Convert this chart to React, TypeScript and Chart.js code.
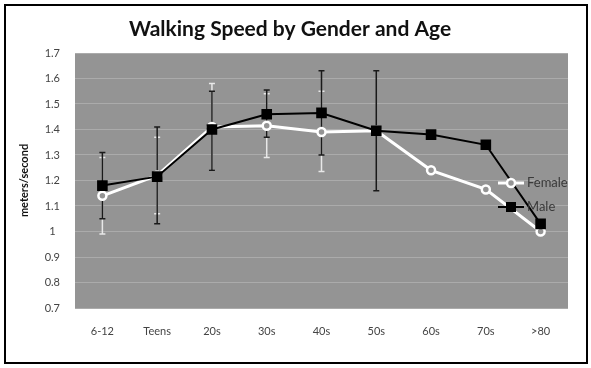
import React, { useEffect, useRef } from "react";
import { Chart, registerables } from "chart.js";

Chart.register(...registerables);

const categories = ["6-12", "Teens", "20s", "30s", "40s", "50s", "60s", "70s", ">80"];
const femaleSpeed = [1.14, 1.22, 1.41, 1.415, 1.39, 1.395, 1.24, 1.165, 1.0];
const maleSpeed = [1.18, 1.215, 1.4, 1.46, 1.465, 1.395, 1.38, 1.34, 1.03];
const femaleLow = [0.99, 1.07, 1.24, 1.29, 1.235, null, null, null, null];
const femaleHigh = [1.29, 1.37, 1.58, 1.54, 1.55, null, null, null, null];
const maleLow = [1.05, 1.03, 1.24, 1.37, 1.3, 1.16, null, null, null];
const maleHigh = [1.31, 1.41, 1.55, 1.555, 1.63, 1.63, null, null, null];

const titleText = "Walking Speed by Gender and Age";
const yTitle = "meters/second";
const FONT = "Lato, 'Open Sans', sans-serif";
const PLOT_BG = "#949494";

const errorBars = {
  id: "errorBars",
  beforeDatasetsDraw(chart: any) {
    const ctx = chart.ctx;
    const x = chart.scales.x;
    const y = chart.scales.y;
    const sets = [
      { lo: femaleLow, hi: femaleHigh, color: "#e8e8e8" },
      { lo: maleLow, hi: maleHigh, color: "#1a1a1a" },
    ];
    ctx.save();
    for (const s of sets) {
      ctx.strokeStyle = s.color;
      ctx.lineWidth = 1.5;
      for (let i = 0; i < categories.length; i++) {
        const lo = s.lo[i];
        const hi = s.hi[i];
        if (lo == null || hi == null) continue;
        const px = x.getPixelForValue(i);
        const py1 = y.getPixelForValue(lo);
        const py2 = y.getPixelForValue(hi);
        ctx.beginPath();
        ctx.moveTo(px, py1);
        ctx.lineTo(px, py2);
        ctx.moveTo(px - 3, py1);
        ctx.lineTo(px + 3, py1);
        ctx.moveTo(px - 3, py2);
        ctx.lineTo(px + 3, py2);
        ctx.stroke();
      }
    }
    ctx.restore();
  },
};

const decor = {
  id: "decor",
  beforeDraw(chart: any) {
    const { ctx, chartArea } = chart;
    ctx.save();
    ctx.fillStyle = "#ffffff";
    ctx.fillRect(0, 0, chart.width, chart.height);
    ctx.fillStyle = PLOT_BG;
    ctx.fillRect(chartArea.left, chartArea.top, chartArea.right - chartArea.left, chartArea.bottom - chartArea.top);
    ctx.restore();
  },
  afterDraw(chart: any) {
    const { ctx, chartArea } = chart;
    ctx.save();
    // title
    ctx.fillStyle = "#111111";
    ctx.font = `bold 21px ${FONT}`;
    ctx.textAlign = "center";
    ctx.textBaseline = "middle";
    ctx.fillText(titleText, 290, 29);
    // legend
    const lx = chartArea.right - 57;
    const items = [
      { label: "Female", y: chartArea.top + 130, line: "#ffffff", lw: 3, kind: "circle" },
      { label: "Male", y: chartArea.top + 154, line: "#000000", lw: 2, kind: "rect" },
    ];
    for (const it of items) {
      ctx.strokeStyle = it.line;
      ctx.lineWidth = it.lw;
      ctx.beginPath();
      ctx.moveTo(lx - 13, it.y);
      ctx.lineTo(lx + 13, it.y);
      ctx.stroke();
      if (it.kind === "circle") {
        ctx.fillStyle = PLOT_BG;
        ctx.strokeStyle = "#ffffff";
        ctx.lineWidth = 2.5;
        ctx.beginPath();
        ctx.arc(lx, it.y, 4, 0, Math.PI * 2);
        ctx.fill();
        ctx.stroke();
      } else {
        ctx.fillStyle = "#000000";
        ctx.fillRect(lx - 5, it.y - 5, 10, 10);
      }
      ctx.fillStyle = "#3a3a3a";
      ctx.font = `13px ${FONT}`;
      ctx.textAlign = "left";
      ctx.textBaseline = "middle";
      ctx.fillText(it.label, lx + 16, it.y);
    }
    ctx.restore();
  },
};

export default function App() {
  const ref = useRef<HTMLCanvasElement | null>(null);
  useEffect(() => {
    document.body.style.margin = "0";
    const canvas = ref.current!;
    const chart = new Chart(canvas, {
      type: "line",
      data: {
        labels: categories,
        datasets: [
          {
            label: "Male",
            data: maleSpeed,
            borderColor: "#000000",
            borderWidth: 2,
            backgroundColor: "#000000",
            pointStyle: "rect",
            pointRadius: 7.5,
            pointBorderWidth: 0,
            pointBackgroundColor: "#000000",
            tension: 0,
            order: 0,
          },
          {
            label: "Female",
            data: femaleSpeed,
            borderColor: "#ffffff",
            borderWidth: 3,
            pointStyle: "circle",
            pointRadius: 4,
            pointBorderWidth: 2.5,
            pointBorderColor: "#ffffff",
            pointBackgroundColor: PLOT_BG,
            tension: 0,
            order: 1,
          },
        ],
      },
      options: {
        responsive: false,
        animation: false,
        devicePixelRatio: 1,
        layout: { padding: { top: 53, right: 23, left: 0, bottom: 0 } },
        plugins: {
          legend: { display: false },
          title: { display: false },
          tooltip: { enabled: false },
        },
        scales: {
          x: {
            offset: true,
            grid: { display: false, drawTicks: false },
            border: { display: false },
            ticks: { color: "#444444", font: { family: FONT, size: 11 }, padding: 17 },
            afterFit: (s: any) => {
              s.height = 60;
            },
          },
          y: {
            min: 0.7,
            max: 1.7,
            grid: { color: "#ababab", lineWidth: 1, drawTicks: false },
            border: { display: false },
            ticks: {
              stepSize: 0.1,
              color: "#444444",
              font: { family: FONT, size: 11 },
              padding: 15,
              crossAlign: "center",
              callback: (v: any) => String(Math.round(Number(v) * 10) / 10),
            },
            title: {
              display: true,
              text: yTitle,
              color: "#111111",
              font: { family: FONT, size: 11, weight: "bold" },
              padding: { top: 18, bottom: 0 },
            },
            afterFit: (s: any) => {
              s.width = 75;
            },
          },
        },
      },
      plugins: [decor, errorBars],
    });
    return () => chart.destroy();
  }, []);
  return (
    <div style={{ position: "fixed", left: 0, top: 0, width: 591, height: 368 }}>
      <canvas ref={ref} width={591} height={368} style={{ position: "absolute", left: 0, top: 0 }} />
      <div
        style={{
          position: "absolute",
          left: 4,
          top: 4,
          width: 584,
          height: 360,
          border: "2px solid #000",
          boxSizing: "border-box",
          pointerEvents: "none",
        }}
      />
    </div>
  );
}
